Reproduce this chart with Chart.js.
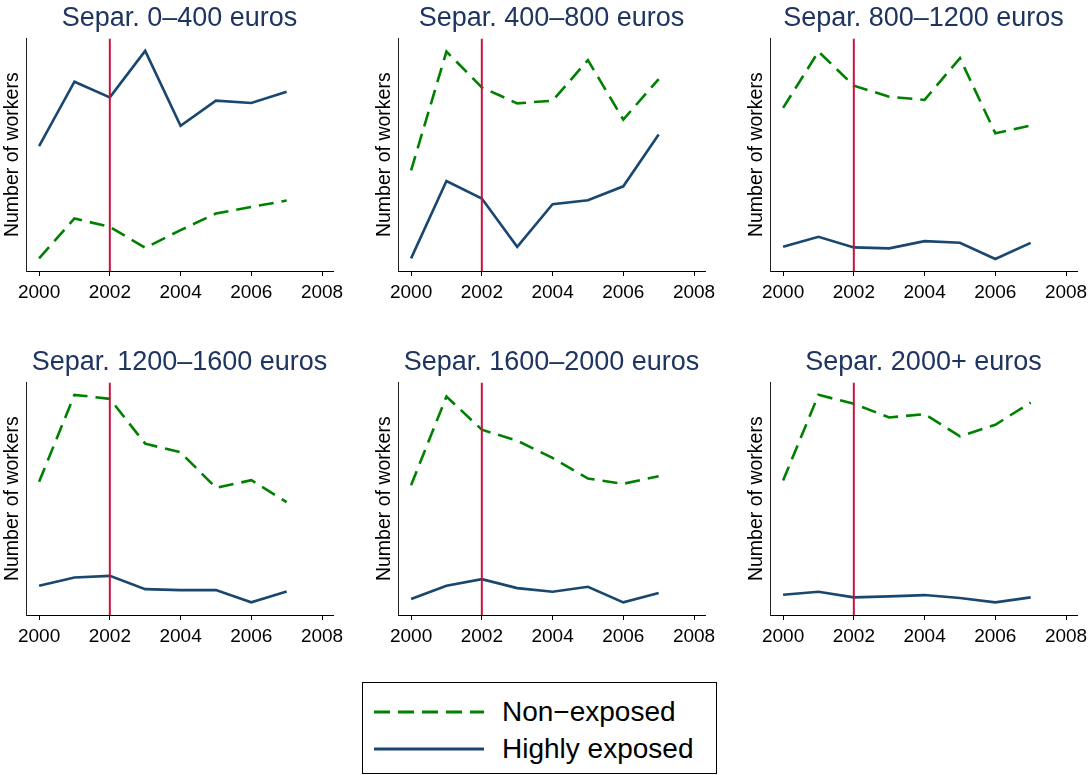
<!DOCTYPE html>
<html>
<head>
<meta charset="utf-8">
<script src="https://cdn.jsdelivr.net/npm/chart.js@4/dist/chart.umd.min.js"></script>
<style>
  html, body { margin: 0; padding: 0; background: #fff; }
  body { width: 1088px; height: 775px; position: relative; overflow: hidden;
         font-family: "Liberation Sans", Arial, sans-serif; }
  .panel { position: absolute; width: 344px; height: 320px; }
  .legend { position: absolute; left: 362px; top: 682px; width: 353px; height: 90px;
            border: 1px solid #000; background: #fff; }
  .legend .row { position: absolute; left: 0; height: 36px; display: flex; align-items: center; }
  .legend svg { position: absolute; left: 11px; }
  .legend span { position: absolute; left: 139px; font-size: 28px; color: #000; white-space: nowrap; line-height: 36px; }
</style>
</head>
<body>
<div class="panel" style="left:0;top:0"><canvas id="p0"></canvas></div>
<div class="panel" style="left:372px;top:0"><canvas id="p1"></canvas></div>
<div class="panel" style="left:744px;top:0"><canvas id="p2"></canvas></div>
<div class="panel" style="left:0;top:344px"><canvas id="p3"></canvas></div>
<div class="panel" style="left:372px;top:344px"><canvas id="p4"></canvas></div>
<div class="panel" style="left:744px;top:344px"><canvas id="p5"></canvas></div>

<div class="legend">
  <div class="row" style="top:11px">
    <svg width="112" height="36"><line x1="0" y1="18" x2="110" y2="18" stroke="#008000" stroke-width="3" stroke-dasharray="16 8"/></svg>
    <span>Non&minus;exposed</span>
  </div>
  <div class="row" style="top:48px">
    <svg width="112" height="36"><line x1="0" y1="18" x2="110" y2="18" stroke="#1A476F" stroke-width="3"/></svg>
    <span>Highly exposed</span>
  </div>
</div>

<script>
// Years on the horizontal axis and the axis tick labels
const years = [2000, 2001, 2002, 2003, 2004, 2005, 2006, 2007];
const yearTicks = [2000, 2002, 2004, 2006, 2008];
const reformYear = 2002;

// Panel titles (separation wage bands)
const panelTitles = [
  'Separ. 0\u2013400 euros',
  'Separ. 400\u2013800 euros',
  'Separ. 800\u20131200 euros',
  'Separ. 1200\u20131600 euros',
  'Separ. 1600\u20132000 euros',
  'Separ. 2000+ euros'
];

// Number of workers (relative scale, no tick labels shown), non-exposed group
const nonExposed0 = [12.7, 52.7, 44.3, 23.3, 41.0, 57.7, 64.3, 70.7];
const nonExposed1 = [101.0, 220.3, 184.3, 168.3, 171.0, 211.7, 152.0, 192.7];
const nonExposed2 = [163.7, 220.3, 186.0, 175.0, 171.7, 213.7, 138.3, 146.0];
const nonExposed3 = [133.7, 221.0, 217.0, 172.0, 163.3, 127.7, 135.3, 113.3];
const nonExposed4 = [130.3, 219.3, 186.0, 175.0, 157.7, 137.0, 131.7, 139.3];
const nonExposed5 = [135.0, 221.0, 212.0, 198.3, 201.7, 179.3, 191.0, 213.3];

// Number of workers, highly exposed group
const highlyExposed0 = [125.3, 190.0, 174.3, 221.0, 145.7, 171.0, 168.7, 180.0];
const highlyExposed1 = [12.7, 90.3, 72.7, 24.3, 67.0, 71.0, 85.0, 137.0];
const highlyExposed2 = [24.3, 34.3, 23.7, 22.7, 30.0, 28.3, 12.0, 28.3];
const highlyExposed3 = [29.3, 37.7, 39.3, 26.0, 25.0, 25.0, 12.7, 23.7];
const highlyExposed4 = [16.0, 29.3, 36.0, 27.0, 23.3, 28.3, 12.7, 22.0];
const highlyExposed5 = [20.3, 23.3, 17.7, 18.7, 20.0, 17.0, 12.7, 17.7];

const nonExposedAll = [nonExposed0, nonExposed1, nonExposed2, nonExposed3, nonExposed4, nonExposed5];
const highlyExposedAll = [highlyExposed0, highlyExposed1, highlyExposed2, highlyExposed3, highlyExposed4, highlyExposed5];

const Y_MIN = 0, Y_MAX = 233.5;
const X_MIN = 1999.63, X_MAX = 2008.31;

const FONT = '"Liberation Sans", Arial, sans-serif';
const NAVY = '#1A476F';
const GREEN = '#008000';
const RED = '#C8143C';
const TITLE = '#1E3461';

function pts(vals) { return years.map((y, i) => ({ x: y, y: vals[i] })); }

function makePanel(i) {
  const canvas = document.getElementById('p' + i);
  const H = 320;
  new Chart(canvas, {
    type: 'line',
    data: {
      datasets: [
        { // reference year marker
          data: [{ x: reformYear, y: Y_MIN }, { x: reformYear, y: Y_MAX }],
          borderColor: RED, borderWidth: 2, pointRadius: 0, fill: false
        },
        {
          label: 'Non\u2212exposed',
          data: pts(nonExposedAll[i]),
          borderColor: GREEN, borderWidth: 2.6, borderDash: [15, 8],
          pointRadius: 0, fill: false, tension: 0
        },
        {
          label: 'Highly exposed',
          data: pts(highlyExposedAll[i]),
          borderColor: NAVY, borderWidth: 2.6,
          pointRadius: 0, fill: false, tension: 0
        }
      ]
    },
    options: {
      responsive: true,
      maintainAspectRatio: false,
      animation: false,
      events: [],
      layout: { padding: { left: 0, right: 11, top: 0, bottom: 0 } },
      plugins: {
        legend: { display: false },
        tooltip: { enabled: false },
        title: {
          display: true,
          text: panelTitles[i],
          fullSize: false,
          color: TITLE,
          font: { family: FONT, size: 27, weight: 'normal', lineHeight: 1.2 },
          padding: { top: 2, bottom: 4 }
        }
      },
      scales: {
        x: {
          type: 'linear',
          min: X_MIN, max: X_MAX,
          afterBuildTicks: s => { s.ticks = yearTicks.map(v => ({ value: v })); },
          afterFit: s => { s.height = H - 271; s.paddingLeft = 0; s.paddingRight = 0; },
          ticks: {
            color: '#000', padding: 5, maxRotation: 0,
            font: { family: FONT, size: 19 },
            callback: v => String(v)
          },
          grid: { display: true, drawOnChartArea: false, drawTicks: true, tickLength: 5, color: '#000', lineWidth: 1 },
          border: { display: true, color: '#000', width: 1 }
        },
        y: {
          min: Y_MIN, max: Y_MAX,
          afterFit: s => { s.width = 26; },
          ticks: { display: false },
          grid: { display: false },
          border: { display: true, color: '#222', width: 1 },
          title: {
            display: true,
            text: 'Number of workers',
            color: '#000',
            font: { family: FONT, size: 19.5, lineHeight: 1.2 },
            padding: { top: 1, bottom: 0 }
          }
        }
      }
    }
  });
}

for (let i = 0; i < 6; i++) makePanel(i);
</script>
</body>
</html>
